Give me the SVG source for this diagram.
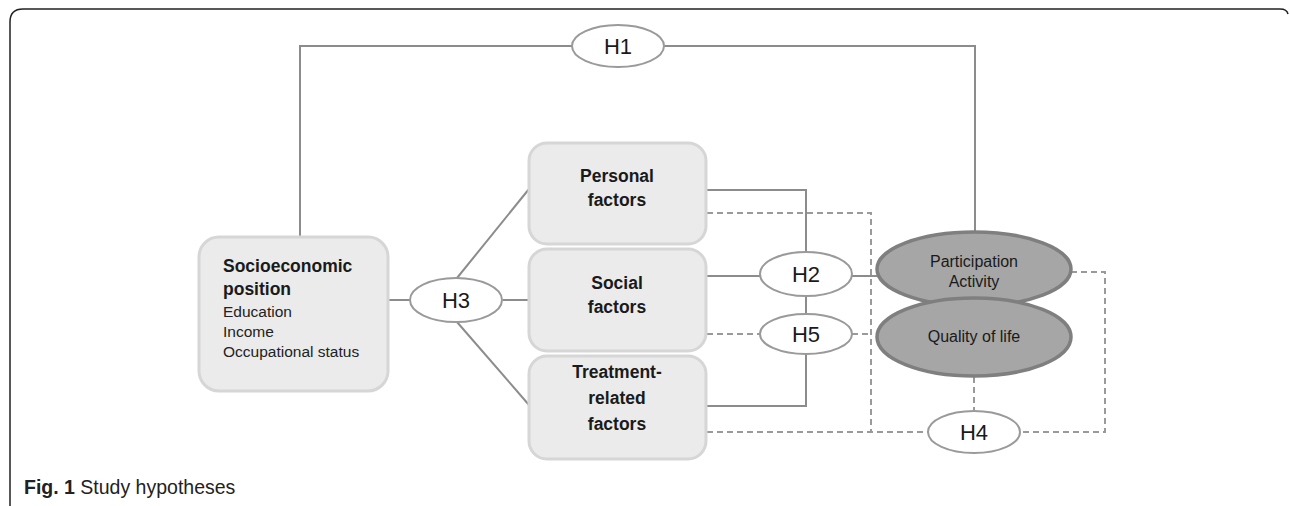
<svg xmlns="http://www.w3.org/2000/svg" width="1290" height="506" viewBox="0 0 1290 506">
<style>
.box{fill:#ebebeb;stroke:#d6d6d6;stroke-width:3}
.hyp{fill:#ffffff;stroke:#9a9a9a;stroke-width:2}
.out{fill:#a6a6a6;stroke:#7f7f7f;stroke-width:3.5}
.solid{fill:none;stroke:#8c8c8c;stroke-width:2}
.dash{fill:none;stroke:#9a9a9a;stroke-width:2;stroke-dasharray:6 4}
.bt{font-family:"Liberation Sans",Arial,sans-serif;font-weight:bold;font-size:17.5px;fill:#1a1a1a}
.rt{font-family:"Liberation Sans",Arial,sans-serif;font-size:15.5px;fill:#222}
.ht{font-family:"Liberation Sans",Arial,sans-serif;font-size:22px;fill:#1a1a1a;text-anchor:middle}
.ot{font-family:"Liberation Sans",Arial,sans-serif;font-size:16px;fill:#1a1a1a;text-anchor:middle}
.c{text-anchor:middle}
</style>
<rect width="1290" height="506" fill="#ffffff"/>
<path d="M10 506 L10 22 Q10 9 23 9 L1280 9 Q1287 9 1288 14" fill="none" stroke="#222" stroke-width="1.5"/>

<g id="connectors">
  <path class="solid" d="M300 237 V46 H572"/>
  <path class="solid" d="M664 46 H975 V232"/>
  <path class="solid" d="M389 300 H410"/>
  <path class="solid" d="M503 300 H529"/>
  <path class="solid" d="M457 278 L529 189"/>
  <path class="solid" d="M457 322 L529 405"/>
  <path class="solid" d="M707 190 H806 V252"/>
  <path class="solid" d="M707 276 H760"/>
  <path class="solid" d="M852 276 H878"/>
  <path class="solid" d="M806 296 V314"/>
  <path class="solid" d="M707 406 H806 V354"/>
  <path class="dash" d="M707 213 H871 V432"/>
  <path class="dash" d="M707 432 H928"/>
  <path class="dash" d="M707 334 H760"/>
  <path class="dash" d="M852 334 H871"/>
  <path class="dash" d="M1071 272 H1105 V432 H1020"/>
  <path class="dash" d="M974 377 V410"/>
</g>

<g id="h1">
  <ellipse class="hyp" cx="618" cy="46" rx="46" ry="21"/>
  <text class="ht" x="618" y="54">H1</text>
</g>

<g id="socioeconomic">
  <rect class="box" x="199" y="237" width="189" height="154" rx="20"/>
  <text class="bt" x="223" y="272">Socioeconomic</text>
  <text class="bt" x="223" y="295">position</text>
  <text class="rt" x="223" y="317">Education</text>
  <text class="rt" x="223" y="337">Income</text>
  <text class="rt" x="223" y="357">Occupational status</text>
</g>

<g id="h3">
  <ellipse class="hyp" cx="456" cy="300" rx="46" ry="22"/>
  <text class="ht" x="456" y="308">H3</text>
</g>

<g id="personal">
  <rect class="box" x="529" y="143" width="177" height="101" rx="18"/>
  <text class="bt c" x="617" y="182">Personal</text>
  <text class="bt c" x="617" y="206">factors</text>
</g>

<g id="social">
  <rect class="box" x="529" y="249" width="177" height="102" rx="18"/>
  <text class="bt c" x="617" y="289">Social</text>
  <text class="bt c" x="617" y="313">factors</text>
</g>

<g id="treatment">
  <rect class="box" x="529" y="356" width="177" height="103" rx="18"/>
  <text class="bt c" x="617" y="378">Treatment-</text>
  <text class="bt c" x="617" y="404">related</text>
  <text class="bt c" x="617" y="430">factors</text>
</g>

<g id="h2">
  <ellipse class="hyp" cx="806" cy="274" rx="46" ry="22"/>
  <text class="ht" x="806" y="282">H2</text>
</g>

<g id="h5">
  <ellipse class="hyp" cx="806" cy="334" rx="46" ry="20"/>
  <text class="ht" x="806" y="342">H5</text>
</g>

<g id="participation">
  <ellipse class="out" cx="974" cy="269" rx="97" ry="37"/>
  <text class="ot" x="974" y="267">Participation</text>
  <text class="ot" x="974" y="287">Activity</text>
</g>

<g id="quality">
  <ellipse class="out" cx="974" cy="337" rx="97" ry="39"/>
  <text class="ot" x="974" y="342">Quality of life</text>
</g>

<g id="h4">
  <ellipse class="hyp" cx="974" cy="432" rx="46" ry="21"/>
  <text class="ht" x="974" y="440">H4</text>
</g>

<g id="caption">
  <text x="24" y="494" style="font-family:'Liberation Sans',Arial,sans-serif;font-size:19.5px;fill:#222"><tspan font-weight="bold">Fig. 1</tspan> Study hypotheses</text>
</g>
</svg>
